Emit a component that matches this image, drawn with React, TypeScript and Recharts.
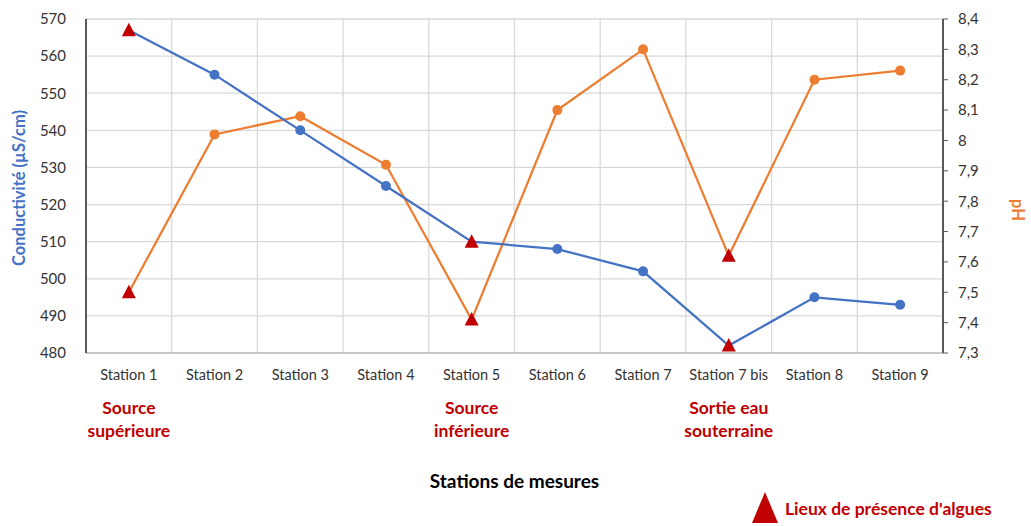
import React from "react";
import {
  LineChart,
  Line,
  XAxis,
  YAxis,
  CartesianGrid,
  Label,
} from "recharts";

const stations = [
  "Station 1",
  "Station 2",
  "Station 3",
  "Station 4",
  "Station 5",
  "Station 6",
  "Station 7",
  "Station 7 bis",
  "Station 8",
  "Station 9",
];
const conductivity = [567, 555, 540, 525, 510, 508, 502, 482, 495, 493];
const ph = [7.5, 8.02, 8.08, 7.92, 7.41, 8.1, 8.3, 7.62, 8.2, 8.23];
const algae = [true, false, false, false, true, false, false, true, false, false];
const siteNotes = [
  ["Source", "supérieure"],
  [],
  [],
  [],
  ["Source", "inférieure"],
  [],
  [],
  ["Sortie eau", "souterraine"],
  [],
  [],
];
const condTicks = [480, 490, 500, 510, 520, 530, 540, 550, 560, 570];
const phTicks = [7.3, 7.4, 7.5, 7.6, 7.7, 7.8, 7.9, 8, 8.1, 8.2, 8.3, 8.4];

const BLUE = "#4472C4";
const ORANGE = "#ED7D31";
const RED = "#C00000";
const FONT = "Lato, 'Open Sans', sans-serif";

const rows = stations.map((s, i) => ({
  name: s,
  cond: conductivity[i],
  ph: ph[i],
  algae: algae[i],
  note: siteNotes[i],
}));

function makeDot(color: string) {
  return (props: any) => {
    const { cx, cy, index } = props;
    if (cx == null || cy == null) return null;
    if (rows[index].algae) {
      return (
        <polygon
          key={"d" + index}
          points={`${cx},${cy - 7.5} ${cx - 7},${cy + 6} ${cx + 7},${cy + 6}`}
          fill={RED}
        />
      );
    }
    return <circle key={"d" + index} cx={cx} cy={cy} r={5} fill={color} />;
  };
}

function StationTick(props: any) {
  const { x, y, payload, index } = props;
  const note = rows[index]?.note || [];
  return (
    <g>
      <text x={x} y={y + 19} textAnchor="middle" fill="#333" fontSize={14.5} fontFamily={FONT}>
        {payload.value}
      </text>
      {note.map((t: string, k: number) => (
        <text
          key={k}
          x={x}
          y={y + 53 + k * 23}
          textAnchor="middle"
          fill={RED}
          fontSize={17.5}
          fontWeight="bold"
          fontFamily={FONT}
        >
          {t}
        </text>
      ))}
    </g>
  );
}

const fmtPh = (v: number) => (Number.isInteger(v) ? String(v) : v.toFixed(1).replace(".", ","));

export default function App() {
  return (
    <div style={{ position: "absolute", left: 0, top: 0, width: 1031, height: 526, background: "#fff" }}>
      <LineChart
        width={1031}
        height={526}
        data={rows}
        margin={{ top: 19, right: 28, left: 26, bottom: 0 }}
      >
        <CartesianGrid
          yAxisId="left"
          stroke="#D9D9D9"
          strokeWidth={1.3}
          verticalCoordinatesGenerator={({ offset }: any) =>
            stations.slice(1).map((_, i) => offset.left + ((i + 1) * offset.width) / stations.length)
          }
        />
        <XAxis
          dataKey="name"
          height={173}
          interval={0}
          padding={{ left: 42.85, right: 42.85 }}
          tickLine={false}
          axisLine={{ stroke: "#BFBFBF", strokeWidth: 1.5 }}
          tick={<StationTick />}
        >
          <Label
            value="Stations de mesures"
            position="insideBottom"
            offset={38}
            style={{ fill: "#000", fontSize: 19, fontWeight: "bold", fontFamily: FONT }}
          />
        </XAxis>
        <YAxis
          yAxisId="left"
          width={60}
          domain={[480, 570]}
          ticks={condTicks}
          tickLine={false}
          tickMargin={14}
          axisLine={{ stroke: "#595959", strokeWidth: 2 }}
          tick={{ fill: "#333", fontSize: 15, fontFamily: FONT }}
        >
          <Label
            content={({ viewBox }: any) => {
              const cx = viewBox.x - 7;
              const cy = viewBox.y + viewBox.height / 2 + 2;
              return (
                <text
                  x={cx}
                  y={cy}
                  transform={`rotate(-90 ${cx} ${cy})`}
                  textAnchor="middle"
                  dominantBaseline="central"
                  fill={BLUE}
                  fontSize={16.5}
                  fontWeight="bold"
                  fontFamily={FONT}
                >
                  Conductivité (µS/cm)
                </text>
              );
            }}
          />
        </YAxis>
        <YAxis
          yAxisId="right"
          orientation="right"
          width={60}
          domain={[7.3, 8.4]}
          ticks={phTicks}
          tickFormatter={fmtPh}
          tickSize={5}
          tickMargin={10}
          tickLine={{ stroke: "#595959" }}
          axisLine={{ stroke: "#595959", strokeWidth: 2 }}
          tick={{ fill: "#333", fontSize: 15, fontFamily: FONT }}
        >
          <Label
            content={({ viewBox }: any) => {
              const cx = viewBox.x + viewBox.width + 15;
              const cy = viewBox.y + viewBox.height / 2 + 24;
              return (
                <text
                  x={cx}
                  y={cy}
                  transform={`rotate(90 ${cx} ${cy})`}
                  textAnchor="middle"
                  dominantBaseline="central"
                  fill={ORANGE}
                  fontSize={16.5}
                  fontWeight="bold"
                  fontFamily={FONT}
                >
                  pH
                </text>
              );
            }}
          />
        </YAxis>
        <Line
          yAxisId="right"
          dataKey="ph"
          stroke={ORANGE}
          strokeWidth={2.25}
          dot={makeDot(ORANGE)}
          activeDot={false}
          isAnimationActive={false}
        />
        <Line
          yAxisId="left"
          dataKey="cond"
          stroke={BLUE}
          strokeWidth={2.25}
          dot={makeDot(BLUE)}
          activeDot={false}
          isAnimationActive={false}
        />
      </LineChart>
      <div style={{ position: "absolute", left: 750, top: 491, width: 281, height: 34 }}>
        <svg width={281} height={34}>
          <polygon points="15,1 2,32 28,32" fill={RED} />
          <text x={35} y={24} fill={RED} fontSize={17.5} fontWeight="bold" fontFamily={FONT}>
            Lieux de présence d'algues
          </text>
        </svg>
      </div>
    </div>
  );
}
